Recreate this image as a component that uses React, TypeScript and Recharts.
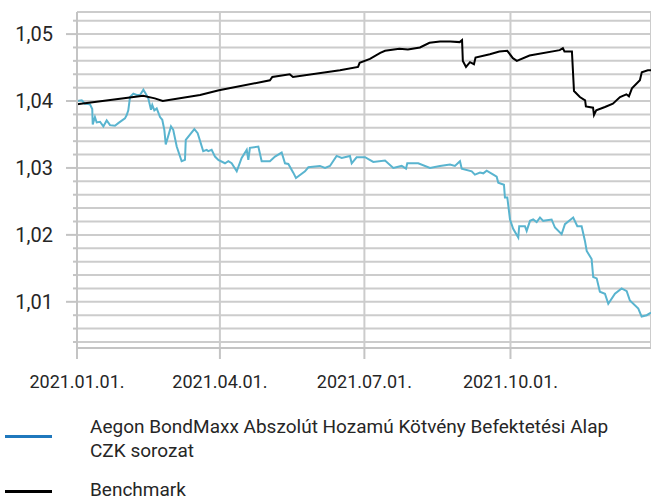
import React from 'react';
import { LineChart, Line, XAxis, YAxis, CartesianGrid, ReferenceLine } from 'recharts';

// days counted from 2021.01.01.
const fundDays = [
  0, 3, 5, 8.2, 9.6, 9.9, 11.3, 12.4, 14.5, 16.6, 18.7, 20.8, 23.9, 26, 30.2, 31.3, 32.3, 33.4, 35.5, 37.6,
  39.7, 41.8, 43.3, 44.9, 46.6, 47.4, 48.7, 50.2, 52.3, 53.7, 55, 55.9, 59.2, 60.6, 62.8, 65.9, 68, 68.5, 73.9, 76,
  79.5, 81.7, 82.7, 84.8, 86.9, 89, 93.2, 95.3, 97.4, 100.6, 103.7, 106.9, 107.9, 108.9, 114.2, 116.3, 121.5, 124.7, 128.9, 131,
  133.1, 136.2, 137.9, 143.6, 145.7, 153, 156.2, 159.3, 163.5, 166.7, 171.9, 173, 176.1, 181.4, 186.6, 194, 199.2, 204.5, 207.2, 208,
  214.9, 222.3, 228.6, 234.9, 238, 241.2, 242.3, 248.6, 250.6, 253.8, 255.9, 258, 262.2, 264.3, 265.3, 268.9, 269.5, 271, 272.7, 274.7,
  277.9, 278.5, 282.1, 283.2, 285.3, 287.3, 289.5, 291.6, 293.6, 298.9, 301, 305.2, 307.3, 312.5, 315.1, 317.8, 319.9, 321, 324.1, 325.1,
  327.3, 329.3, 332.5, 334.6, 338.8, 343, 346.2, 348.2, 353.5, 355.6, 358.8, 361.5,
];
const fundValues = [
  1.04, 1.0401, 1.0396, 1.0395, 1.0388, 1.0365, 1.0376, 1.0368, 1.0369, 1.0362, 1.0371, 1.0364, 1.0363, 1.0367, 1.0374, 1.0379, 1.0386, 1.0406, 1.0411, 1.0409,
  1.0409, 1.0417, 1.0411, 1.0404, 1.0387, 1.0394, 1.0386, 1.0389, 1.0376, 1.0372, 1.0357, 1.0335, 1.0362, 1.0357, 1.0332, 1.031, 1.0312, 1.0342, 1.0358, 1.0352,
  1.0325, 1.0327, 1.0325, 1.0327, 1.0317, 1.0312, 1.0307, 1.031, 1.0307, 1.0295, 1.0315, 1.0327, 1.0312, 1.033, 1.0332, 1.031, 1.031, 1.0317, 1.0323, 1.0307,
  1.0306, 1.0293, 1.0285, 1.0295, 1.0301, 1.0303, 1.03, 1.0303, 1.0318, 1.0315, 1.0318, 1.0307, 1.0316, 1.0316, 1.0309, 1.0311, 1.03, 1.0303, 1.0299, 1.0307,
  1.0307, 1.03, 1.0303, 1.0305, 1.0303, 1.031, 1.0299, 1.0295, 1.029, 1.0293, 1.0292, 1.0296, 1.029, 1.0287, 1.0278, 1.0275, 1.0256, 1.0256, 1.0223, 1.0209,
  1.0196, 1.0213, 1.0213, 1.0206, 1.0221, 1.0223, 1.0219, 1.0226, 1.0221, 1.0223, 1.0211, 1.0201, 1.0216, 1.0226, 1.0213, 1.0213, 1.0191, 1.0176, 1.0164, 1.0137,
  1.0135, 1.0115, 1.0112, 1.0097, 1.0112, 1.012, 1.0116, 1.0102, 1.009, 1.0078, 1.008, 1.0084,
];

const benchDays = [
  0, 32, 41.6, 49, 54, 77.5, 89.4, 121.5, 123, 134, 136, 165.6, 177, 178, 184.5, 191, 194, 203, 208.4, 216,
  222, 228.6, 235, 241, 242.5, 243, 245, 247.5, 250, 251, 260, 266, 271, 274.5, 277, 285, 304, 306, 307, 311.7,
  313, 316.7, 320, 320.5, 325, 325.6, 327, 332.5, 337.5, 342, 346, 347.6, 349.5, 354.5, 355.7, 359.5, 361.5,
];
const benchValues = [
  1.0395, 1.0405, 1.0408, 1.0404, 1.04, 1.0409, 1.0416, 1.0431, 1.0436, 1.044, 1.0436, 1.0446, 1.0451, 1.0457, 1.0463, 1.0472, 1.0475, 1.0478, 1.0477, 1.048,
  1.0487, 1.0489, 1.0489, 1.0488, 1.0491, 1.046, 1.0451, 1.0458, 1.0455, 1.0465, 1.047, 1.0474, 1.0475, 1.0464, 1.046, 1.0468, 1.0476, 1.0479, 1.0474, 1.0474,
  1.0415, 1.0406, 1.0401, 1.0392, 1.039, 1.0379, 1.0386, 1.0391, 1.0396, 1.0406, 1.041, 1.0407, 1.0419, 1.0431, 1.0443, 1.0446, 1.0446,
];

const xTicks = [0, 90, 181, 273];
const xTickLabels = ['2021.01.01.', '2021.04.01.', '2021.07.01.', '2021.10.01.'];
const yTicks = [
  1.004, 1.006, 1.008, 1.01, 1.012, 1.014, 1.016, 1.018, 1.02, 1.022, 1.024, 1.026, 1.028,
  1.03, 1.032, 1.034, 1.036, 1.038, 1.04, 1.042, 1.044, 1.046, 1.048, 1.05, 1.052,
];

const fundName = 'Aegon BondMaxx Abszolút Hozamú Kötvény Befektetési Alap';
const fundName2 = 'CZK sorozat';
const benchName = 'Benchmark';

const fundData = fundDays.map((d, i) => ({ day: d, value: fundValues[i] }));
const benchData = benchDays.map((d, i) => ({ day: d, value: benchValues[i] }));

const GRID = '#cccccc';
const AXIS = '#c4c4c4';
const TEXT = '#262626';
const FONT = 'Roboto, "Noto Sans", sans-serif';

const isMajor = (v: number) => Math.abs(v * 100 - Math.round(v * 100)) < 1e-6;

const YTick = (props: any) => {
  const { x, y, payload } = props;
  const major = isMajor(payload.value);
  return (
    <g>
      <line x1={major ? x - 11 : x - 4} x2={x} y1={y} y2={y} stroke={AXIS} strokeWidth={2} />
      {major && (
        <text x={x - 24} y={y} dy={7} textAnchor="end" fontSize={20} fill={TEXT} fontFamily={FONT}>
          {payload.value.toFixed(2).replace('.', ',')}
        </text>
      )}
    </g>
  );
};

const XTick = (props: any) => {
  const { x, y, payload } = props;
  const idx = xTicks.indexOf(payload.value);
  return (
    <g>
      <line x1={x} x2={x} y1={y} y2={y + 11} stroke={AXIS} strokeWidth={2} />
      <text x={x} y={y + 40} textAnchor="middle" fontSize={18} fill={TEXT} fontFamily={FONT}>
        {xTickLabels[idx]}
      </text>
    </g>
  );
};

export default function App() {
  return (
    <div style={{ position: 'absolute', left: 0, top: 0, width: 651, height: 500, background: '#fff', fontFamily: FONT }}>
      <LineChart width={651} height={500} margin={{ top: 12, right: 0, left: 0, bottom: 112 }}>
        <CartesianGrid stroke={GRID} strokeWidth={2} />
        <XAxis
          type="number"
          dataKey="day"
          domain={[0, 361.5]}
          ticks={xTicks}
          interval={0}
          allowDataOverflow
          height={40}
          tickSize={0}
          tickMargin={0}
          tickLine={false}
          axisLine={{ stroke: AXIS, strokeWidth: 2 }}
          tick={<XTick />}
        />
        <YAxis
          type="number"
          domain={[1.0031, 1.0533]}
          ticks={yTicks}
          interval={0}
          allowDataOverflow
          width={77}
          tickSize={0}
          tickMargin={0}
          tickLine={false}
          axisLine={{ stroke: AXIS, strokeWidth: 2 }}
          tick={<YTick />}
        />
        <ReferenceLine y={1.0533} stroke={GRID} strokeWidth={2} />
        <Line data={fundData} dataKey="value" type="linear" stroke="#59b4cf" strokeWidth={2} dot={false} isAnimationActive={false} />
        <Line data={benchData} dataKey="value" type="linear" stroke="#000000" strokeWidth={2} dot={false} isAnimationActive={false} />
      </LineChart>

      {/* legend */}
      <div style={{ position: 'absolute', left: 5, top: 435, width: 47, height: 3, background: '#1f78bd' }} />
      <div style={{ position: 'absolute', left: 90, top: 415, fontSize: 19, lineHeight: '24px', color: TEXT, whiteSpace: 'nowrap' }}>
        {fundName}
        <br />
        {fundName2}
      </div>
      <div style={{ position: 'absolute', left: 5, top: 490, width: 47, height: 3, background: '#000' }} />
      <div style={{ position: 'absolute', left: 90, top: 478, fontSize: 19, lineHeight: '24px', color: TEXT, whiteSpace: 'nowrap' }}>
        {benchName}
      </div>
    </div>
  );
}
